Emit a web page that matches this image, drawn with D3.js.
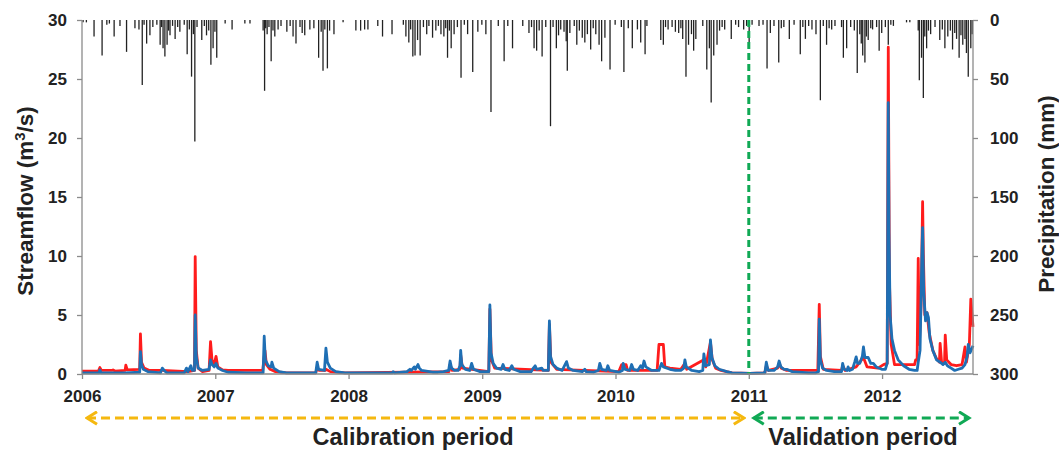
<!DOCTYPE html>
<html>
<head>
<meta charset="utf-8">
<script src="https://cdn.jsdelivr.net/npm/d3@7"></script>
<style>
  body { margin: 0; background: #fff; }
  svg { font-family: "Liberation Sans", Arial, sans-serif; }
  .axis text { font-size: 17px; font-weight: bold; fill: #222; }
  .axis path, .axis line { stroke: #8a8a8a; stroke-width: 1.3; }
</style>
</head>
<body>
<div id="chart"></div>
<script>
// daily record starts 2006-01-01; values keyed by day number from that date
const startDate = new Date(2006, 0, 1);
const endDate = new Date(2012, 8, 6);
const splitDate = new Date(2011, 0, 1);
const yearTicks = [2006, 2007, 2008, 2009, 2010, 2011, 2012];
const flowTicks = [0, 5, 10, 15, 20, 25, 30];
const rainTicks = [0, 50, 100, 150, 200, 250, 300];

// precipitation [day, mm]
const rainDays = [
  [3, 2], [12, 2], [33, 14], [55, 30], [68, 4], [75, 3], [88, 14], [104, 5], [122, 27], [145, 7], [156, 8],
  [165, 55], [170, 4], [177, 20], [186, 13], [194, 6], [205, 4], [214, 21], [218, 6], [222, 24], [227, 31],
  [233, 21], [237, 9], [241, 13], [248, 5], [255, 16], [262, 6], [268, 10], [280, 4], [288, 29], [294, 8],
  [300, 48], [305, 12], [309, 103], [315, 6], [328, 17], [335, 5], [341, 13], [347, 9], [353, 38], [359, 24],
  [364, 10], [369, 32], [392, 3], [411, 8], [446, 3], [460, 3], [496, 9], [500, 60], [503, 7], [507, 12],
  [512, 6], [518, 35], [523, 9], [528, 14], [537, 8], [545, 5], [561, 10], [570, 5], [578, 14], [586, 20],
  [597, 6], [603, 11], [610, 13], [624, 8], [635, 7], [648, 32], [655, 10], [660, 43], [665, 8], [672, 41],
  [678, 9], [690, 12], [715, 2], [750, 9], [763, 9], [774, 8], [783, 8], [810, 5], [823, 14], [849, 12],
  [880, 4], [887, 14], [895, 19], [900, 8], [906, 31], [912, 30], [919, 17], [926, 30], [935, 6], [944, 12],
  [950, 5], [960, 15], [969, 9], [976, 5], [983, 12], [991, 14], [996, 7], [1001, 32], [1006, 9], [1011, 24],
  [1019, 12], [1028, 6], [1038, 49], [1047, 4], [1056, 12], [1070, 44], [1084, 10], [1095, 4], [1106, 12],
  [1120, 78], [1140, 5], [1156, 35], [1166, 5], [1179, 24], [1207, 5], [1224, 11], [1231, 6], [1238, 24],
  [1245, 26], [1252, 9], [1260, 31], [1270, 6], [1283, 90], [1290, 6], [1299, 24], [1305, 13], [1311, 8],
  [1320, 10], [1326, 18], [1329, 43], [1336, 11], [1348, 5], [1355, 21], [1362, 9], [1370, 15], [1377, 19],
  [1384, 12], [1393, 25], [1400, 7], [1407, 12], [1416, 21], [1423, 35], [1432, 15], [1446, 42], [1460, 4],
  [1477, 6], [1484, 44], [1496, 7], [1507, 24], [1521, 8], [1530, 19], [1542, 29], [1547, 5], [1585, 17],
  [1592, 21], [1598, 6], [1605, 8], [1616, 6], [1625, 10], [1634, 11], [1640, 7], [1645, 16], [1654, 48],
  [1661, 21], [1669, 12], [1675, 26], [1681, 16], [1700, 5], [1711, 42], [1718, 24], [1723, 70], [1730, 30],
  [1739, 21], [1746, 9], [1753, 6], [1760, 8], [1778, 16], [1790, 4], [1798, 6], [1812, 8], [1820, 5],
  [1827, 24], [1835, 4], [1854, 5], [1865, 4], [1876, 41], [1885, 11], [1895, 5], [1908, 36], [1915, 7],
  [1922, 6], [1937, 16], [1950, 4], [1967, 29], [1974, 6], [1981, 16], [1990, 5], [1999, 8], [2010, 12],
  [2022, 68], [2030, 5], [2039, 21], [2046, 7], [2053, 8], [2062, 5], [2080, 6], [2085, 32], [2094, 24],
  [2105, 6], [2115, 9], [2123, 45], [2130, 12], [2134, 20], [2138, 30], [2144, 36], [2148, 14], [2153, 17],
  [2160, 7], [2165, 8], [2176, 6], [2183, 26], [2190, 11], [2200, 6], [2208, 21], [2215, 4], [2222, 5],
  [2258, 2], [2267, 2], [2290, 9], [2293, 51], [2299, 32], [2304, 66], [2308, 14], [2313, 24], [2318, 9],
  [2324, 12], [2336, 6], [2349, 17], [2356, 8], [2363, 24], [2371, 14], [2378, 9], [2384, 25], [2390, 11],
  [2395, 16], [2402, 32], [2407, 13], [2412, 21], [2418, 16], [2422, 28], [2427, 48], [2434, 24], [2438, 12]
];

// observed streamflow [day, m3/s]
const observedFlow = [
  [0, 0.1], [30, 0.1], [47, 0.1], [49, 0.35], [52, 0.1], [120, 0.1], [158, 0.15], [160, 1.9], [163, 0.8],
  [168, 0.4], [180, 0.2], [215, 0.1], [220, 0.5], [225, 0.3], [232, 0.1], [280, 0.1], [286, 0.5], [290, 0.2],
  [298, 0.7], [302, 0.3], [308, 0.3], [310, 5.0], [313, 1.5], [318, 0.5], [330, 0.3], [348, 0.4], [352, 1.2],
  [356, 0.8], [362, 0.6], [367, 0.9], [372, 0.5], [385, 0.3], [400, 0.15], [450, 0.1], [496, 0.1], [499, 3.2],
  [502, 1.2], [510, 0.7], [518, 0.6], [520, 1.0], [525, 0.5], [540, 0.2], [560, 0.1], [640, 0.1], [644, 1.0],
  [648, 0.4], [664, 0.3], [668, 2.2], [672, 1.0], [680, 0.5], [695, 0.2], [720, 0.1], [850, 0.1], [852, 0.2],
  [856, 0.1], [890, 0.2], [898, 0.4], [902, 0.3], [910, 0.6], [913, 0.4], [920, 0.8], [924, 0.5], [930, 0.3],
  [960, 0.15], [975, 0.15], [990, 0.2], [1004, 0.3], [1008, 1.1], [1012, 0.5], [1020, 0.3], [1030, 0.3],
  [1035, 0.7], [1037, 2.0], [1040, 0.8], [1050, 0.4], [1062, 0.3], [1067, 0.9], [1072, 0.4], [1090, 0.2],
  [1114, 0.2], [1117, 5.85], [1120, 1.8], [1126, 0.9], [1135, 0.5], [1148, 0.4], [1153, 0.8], [1158, 0.4],
  [1170, 0.3], [1177, 0.7], [1182, 0.4], [1200, 0.2], [1230, 0.2], [1236, 0.5], [1241, 0.7], [1245, 0.4],
  [1259, 0.5], [1263, 0.3], [1277, 0.3], [1280, 4.5], [1283, 1.5], [1290, 0.8], [1300, 0.5], [1315, 0.3],
  [1327, 1.05], [1332, 0.5], [1345, 0.3], [1370, 0.2], [1377, 0.4], [1381, 0.2], [1400, 0.15], [1414, 0.3],
  [1418, 0.9], [1423, 0.4], [1436, 0.3], [1440, 0.7], [1445, 0.3], [1470, 0.15], [1480, 0.3], [1482, 0.9],
  [1487, 0.4], [1500, 0.3], [1505, 0.8], [1510, 0.4], [1522, 0.3], [1530, 0.7], [1535, 0.5], [1539, 1.1],
  [1544, 0.6], [1560, 0.3], [1580, 0.3], [1587, 0.9], [1592, 0.6], [1610, 0.4], [1625, 0.3], [1640, 0.3],
  [1648, 0.5], [1651, 1.2], [1655, 0.6], [1670, 0.3], [1690, 0.2], [1700, 0.3], [1703, 1.7], [1708, 0.7],
  [1718, 0.8], [1721, 2.9], [1725, 1.4], [1733, 0.7], [1745, 0.4], [1766, 0.2], [1780, 0.1], [1829, 0.05],
  [1870, 0.1], [1874, 1.0], [1879, 0.3], [1895, 0.3], [1905, 0.6], [1909, 1.1], [1914, 0.6], [1922, 0.4],
  [1930, 0.4], [1945, 0.2], [1990, 0.1], [2010, 0.1], [2017, 0.2], [2019, 4.65], [2022, 1.2], [2028, 0.5],
  [2039, 0.3], [2060, 0.2], [2080, 0.2], [2083, 0.9], [2087, 0.4], [2095, 0.3], [2098, 0.6], [2102, 0.3],
  [2110, 0.4], [2116, 1.0], [2120, 1.45], [2124, 0.9], [2130, 0.9], [2137, 1.5], [2140, 2.3], [2144, 1.4],
  [2153, 1.4], [2160, 0.9], [2167, 0.9], [2175, 0.6], [2190, 0.4], [2200, 0.4], [2205, 0.9], [2208, 23.0],
  [2210, 12], [2213, 5], [2218, 3], [2225, 2], [2235, 1.2], [2250, 0.7], [2265, 0.4], [2280, 0.3], [2287, 0.3],
  [2290, 1.0], [2295, 2], [2300, 10], [2302, 12.4], [2305, 7], [2310, 4.5], [2314, 5.2], [2318, 4.8],
  [2322, 3], [2330, 2.0], [2340, 1.2], [2350, 1.0], [2358, 0.8], [2364, 1.0], [2370, 0.7], [2380, 0.5],
  [2390, 0.3], [2400, 0.4], [2410, 0.5], [2418, 0.8], [2424, 1.5], [2427, 2.5], [2432, 1.8], [2440, 2.4]
];

// simulated streamflow [day, m3/s]
const simulatedFlow = [
  [0, 0.25], [45, 0.25], [49, 0.55], [53, 0.3], [82, 0.3], [85, 0.35], [90, 0.25], [118, 0.3], [120, 0.75],
  [124, 0.35], [158, 0.4], [160, 3.4], [163, 1.0], [170, 0.5], [185, 0.3], [220, 0.3], [290, 0.2], [308, 0.3],
  [310, 9.95], [313, 2.0], [318, 0.5], [330, 0.2], [348, 0.3], [352, 2.75], [356, 1.2], [362, 0.8], [367, 1.5],
  [372, 0.6], [385, 0.35], [400, 0.3], [495, 0.3], [499, 1.5], [501, 2.0], [505, 0.8], [515, 0.4], [530, 0.2],
  [560, 0.1], [640, 0.1], [644, 0.5], [650, 0.3], [666, 0.3], [668, 0.4], [680, 0.2], [720, 0.1], [1005, 0.2],
  [1008, 0.8], [1014, 0.3], [1035, 0.4], [1037, 1.6], [1042, 0.5], [1114, 0.2], [1117, 5.5], [1121, 1.2],
  [1130, 0.5], [1277, 0.3], [1280, 4.2], [1284, 1.0], [1300, 0.4], [1470, 0.2], [1478, 0.8], [1490, 0.8],
  [1494, 0.3], [1575, 0.3], [1580, 2.5], [1592, 2.5], [1596, 0.6], [1610, 0.5], [1640, 0.4], [1651, 0.9],
  [1656, 0.4], [1703, 1.2], [1708, 0.6], [1721, 2.7], [1726, 1.2], [1735, 0.5], [1750, 0.3], [1780, 0.1],
  [1829, 0.05], [1870, 0.1], [1874, 0.7], [1880, 0.3], [1905, 0.5], [1909, 0.9], [1915, 0.5], [1930, 0.3],
  [2015, 0.3], [2019, 5.9], [2022, 1.5], [2030, 0.4], [2080, 0.3], [2083, 0.7], [2090, 0.3], [2120, 0.6],
  [2140, 1.4], [2150, 0.6], [2180, 0.5], [2195, 0.8], [2205, 0.9], [2208, 27.7], [2211, 8], [2216, 2.5],
  [2225, 0.8], [2280, 0.8], [2283, 1.2], [2287, 1.2], [2290, 9.8], [2293, 2.5], [2298, 6], [2302, 14.6],
  [2304, 10.2], [2308, 5], [2314, 5.2], [2320, 3.5], [2330, 2.0], [2340, 1.3], [2348, 1.0], [2350, 2.6],
  [2354, 1.0], [2362, 0.9], [2364, 3.3], [2368, 1.2], [2380, 0.8], [2395, 0.7], [2410, 0.8], [2418, 2.3],
  [2422, 1.0], [2430, 2.5], [2434, 6.35], [2440, 4.0]
];

const W = 1059, H = 452;
const svg = d3.select("#chart").append("svg").attr("width", W).attr("height", H);

const x = d3.scaleTime().domain([startDate, endDate]).range([82, 973]);
const yFlow = d3.scaleLinear().domain([0, 30]).range([374, 20]);
const yRain = d3.scaleLinear().domain([0, 300]).range([20, 374]);
const dayToDate = d => d3.timeDay.offset(startDate, d);

// precipitation bars hanging from the top
svg.append("g")
  .selectAll("line")
  .data(rainDays)
  .join("line")
  .attr("x1", d => x(dayToDate(d[0])))
  .attr("x2", d => x(dayToDate(d[0])))
  .attr("y1", yRain(0))
  .attr("y2", d => yRain(d[1]))
  .attr("stroke", "#222")
  .attr("stroke-width", 1.3);

// streamflow lines
const line = d3.line()
  .x(d => x(dayToDate(d[0])))
  .y(d => yFlow(d[1]));

svg.append("path")
  .datum(simulatedFlow)
  .attr("fill", "none")
  .attr("stroke", "#ff1c1c")
  .attr("stroke-width", 2.8)
  .attr("stroke-linejoin", "round")
  .attr("d", line);

svg.append("path")
  .datum(observedFlow)
  .attr("fill", "none")
  .attr("stroke", "#1f6fb4")
  .attr("stroke-width", 2.8)
  .attr("stroke-linejoin", "round")
  .attr("d", line);

// calibration / validation split
svg.append("line")
  .attr("x1", x(splitDate)).attr("x2", x(splitDate))
  .attr("y1", 20).attr("y2", 374)
  .attr("stroke", "#10a955")
  .attr("stroke-width", 3)
  .attr("stroke-dasharray", "7,4");

// axes
svg.append("g")
  .attr("class", "axis")
  .attr("transform", "translate(82,0)")
  .call(d3.axisLeft(yFlow).tickValues(flowTicks).tickSize(5).tickPadding(10))
  .call(g => g.select(".domain").attr("d", "M0,20V374"));

svg.append("g")
  .attr("class", "axis")
  .attr("transform", "translate(973,0)")
  .call(d3.axisRight(yRain).tickValues(rainTicks).tickSize(5).tickPadding(12))
  .call(g => g.select(".domain").attr("d", "M0,20V374"));

svg.append("g")
  .attr("class", "axis")
  .attr("transform", "translate(0,374)")
  .call(d3.axisBottom(x)
    .tickValues(yearTicks.map(y => new Date(y, 0, 1)))
    .tickFormat(d3.timeFormat("%Y"))
    .tickSize(5).tickPadding(11))
  .call(g => g.select(".domain").attr("d", "M82,0H973"));

// axis titles
svg.append("text")
  .attr("transform", "translate(33,201) rotate(-90)")
  .attr("text-anchor", "middle")
  .attr("font-size", 22.5)
  .attr("font-weight", "bold")
  .attr("fill", "#222")
  .html('Streamflow (m<tspan dy="-8" font-size="15">3</tspan><tspan dy="8">/s)</tspan>');

svg.append("text")
  .attr("transform", "translate(1054,194) rotate(-90)")
  .attr("text-anchor", "middle")
  .attr("font-size", 22.5)
  .attr("font-weight", "bold")
  .attr("fill", "#222")
  .text("Precipitation (mm)");

// period arrows
const defs = svg.append("defs");
[["arrowY", "#f5b80f"], ["arrowG", "#10a955"]].forEach(([id, c]) => {
  defs.append("marker")
    .attr("id", id)
    .attr("viewBox", "-10 -6 12 12")
    .attr("markerWidth", 5).attr("markerHeight", 5)
    .attr("orient", "auto-start-reverse")
    .attr("markerUnits", "strokeWidth")
    .append("path")
    .attr("d", "M-8,-5L0,0L-8,5")
    .attr("fill", "none")
    .attr("stroke", c)
    .attr("stroke-width", 2.4);
});

const arrowY = 418;
svg.append("line")
  .attr("x1", x(startDate) + 5).attr("x2", x(splitDate) - 5)
  .attr("y1", arrowY).attr("y2", arrowY)
  .attr("stroke", "#f5b80f").attr("stroke-width", 3)
  .attr("stroke-dasharray", "9,5")
  .attr("marker-start", "url(#arrowY)")
  .attr("marker-end", "url(#arrowY)");

svg.append("line")
  .attr("x1", x(splitDate) + 5).attr("x2", x(endDate) - 4)
  .attr("y1", arrowY).attr("y2", arrowY)
  .attr("stroke", "#10a955").attr("stroke-width", 3)
  .attr("stroke-dasharray", "9,5")
  .attr("marker-start", "url(#arrowG)")
  .attr("marker-end", "url(#arrowG)");

svg.append("text")
  .attr("x", 413).attr("y", 445)
  .attr("text-anchor", "middle")
  .attr("font-size", 23.5).attr("font-weight", "bold").attr("fill", "#222")
  .text("Calibration period");

svg.append("text")
  .attr("x", 863).attr("y", 445)
  .attr("text-anchor", "middle")
  .attr("font-size", 23.5).attr("font-weight", "bold").attr("fill", "#222")
  .text("Validation period");
</script>
</body>
</html>
